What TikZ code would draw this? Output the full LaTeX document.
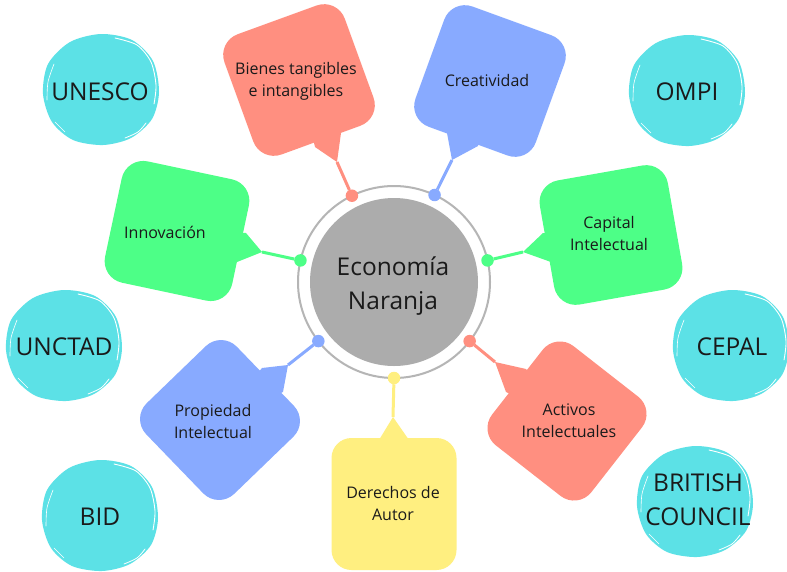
\documentclass[tikz,border=0pt]{standalone}
\usepackage{fontspec}
\setmainfont{Open Sans}
\usetikzlibrary{calc}
\definecolor{csalmon}{HTML}{FF8F80}
\definecolor{cblue}{HTML}{88AAFF}
\definecolor{cgreen}{HTML}{4DFF87}
\definecolor{cyellow}{HTML}{FFEF80}
\definecolor{ccyan}{HTML}{5CE1E6}
\definecolor{ringgrey}{HTML}{B5B5B5}
\definecolor{discgrey}{HTML}{ACACAC}
\definecolor{txt}{HTML}{1A1A1A}
\tikzset{
  blob/.pic={
    \fill[ccyan] plot[smooth cycle] coordinates {(58,2) (51,29) (30,48) (2,55) (-28,50) (-49,32) (-58,4) (-53,-26) (-31,-48) (0,-56) (31,-50) (52,-29)};
    \draw[white, line width=0.9pt, line cap=round] plot[smooth] coordinates {(14,-52) (36,-45) (50,-28) (55,-5) (53,14)};
    \draw[white, line width=0.8pt, line cap=round] plot[smooth] coordinates {(24,48) (37,42) (45,33)};
    \draw[white, line width=0.6pt, line cap=round] plot[smooth] coordinates {(-54,10) (-53,-8) (-47,-26)};
    \draw[white, line width=0.6pt, line cap=round] plot[smooth] coordinates {(-46,32) (-36,42)};
  }
}
\begin{document}
\begin{tikzpicture}[x=1pt,y=-1pt,
  bubble/.style={rounded corners=22pt, inner sep=0pt, outer sep=0pt, minimum width=128pt, minimum height=128pt},
  btext/.style={font=\fontsize{16}{22}\selectfont, text=txt, align=center, inner sep=0pt},
  otext/.style={font=\fontsize{24.5}{34}\selectfont, text=txt, align=center, inner sep=0pt},
  link/.style={line width=3pt},
  knob/.style={circle, inner sep=0pt, outer sep=0pt, minimum size=12.5pt},
]
\useasboundingbox (0,0) rectangle (787,571);
\fill[white] (0,0) rectangle (787,571);

% organisations
\pic at (101,90) {blob};
\pic at (687,91) {blob};
\pic at (64,346) {blob};
\pic at (731,346) {blob};
\pic at (100,516) {blob};
\pic at (695,502) {blob};
\node[otext] (unesco) at (100,92) {UNESCO};
\node[otext] (ompi) at (687,92) {OMPI};
\node[otext] (unctad) at (64,347) {UNCTAD};
\node[otext] (cepal) at (732,347) {CEPAL};
\node[otext] (bid) at (100,517) {BID};
\node[otext] (bc) at (698,500) {BRITISH\\COUNCIL};

% centre
\node[circle, draw=ringgrey, line width=2pt, minimum size=192pt, inner sep=0pt, outer sep=0pt] (ring) at (394,282) {};
\node[circle, fill=discgrey, minimum size=168pt, inner sep=0pt] (core) at (394,282) {};
\node[otext] (coretext) at (393,286) {Economía\\Naranja};

% bubbles
\node[bubble, fill=csalmon, rotate=20] (b1) at (299,80) {};
\node[bubble, fill=cblue, rotate=-20] (b2) at (490,81) {};
\node[bubble, fill=cgreen, rotate=-12, minimum width=130pt, minimum height=124pt] (b3) at (177,231) {};
\node[bubble, fill=cgreen, rotate=10, minimum width=130pt, minimum height=126pt] (b4) at (611,235) {};
\node[bubble, fill=cblue, rotate=44, minimum width=126pt, minimum height=126pt] (b5) at (220,420) {};
\node[bubble, fill=csalmon, rotate=-38, minimum width=126pt, minimum height=126pt] (b6) at (567,421) {};
\node[bubble, fill=cyellow, rounded corners=20pt, minimum width=125pt, minimum height=132pt] (b7) at (394,504) {};

% tails
\coordinate (t1) at (337,162);
\coordinate (t2) at (452,160);
\coordinate (t3) at (262,252);
\coordinate (t4) at (523,252);
\coordinate (t5) at (288,365);
\coordinate (t6) at (495,362);
\coordinate (t7) at (393,417);
\fill[csalmon] (t1) -- (315,147) -- (b1.center) -- (341,133) -- cycle;
\fill[cblue] (t2) -- (447,133) -- (b2.center) -- (478,146) -- cycle;
\fill[cgreen] (t3) -- (246,233) -- (b3.center) -- (237,262) -- cycle;
\fill[cgreen] (t4) -- (543,233) -- (b4.center) -- (551,262) -- cycle;
\fill[cblue] (t5) -- (262,368) -- (b5.center) -- (283,392) -- cycle;
\fill[csalmon] (t6) -- (526,369) -- (b6.center) -- (506,392) -- cycle;
\fill[cyellow] (t7) -- (379,440) -- (b7.center) -- (409,440) -- cycle;

% knobs
\node[knob, fill=csalmon] (d1) at (ring.116) {};
\node[knob, fill=cblue] (d2) at (ring.65) {};
\node[knob, fill=cgreen] (d3) at (ring.167) {};
\node[knob, fill=cgreen] (d4) at (ring.13) {};
\node[knob, fill=cblue] (d5) at (ring.218) {};
\node[knob, fill=csalmon] (d6) at (ring.-38.5) {};
\node[knob, fill=cyellow] (d7) at (ring.-90) {};

% links
\draw[link, csalmon] (t1) -- (d1);
\draw[link, cblue] (t2) -- (d2);
\draw[link, cgreen] (t3) -- (d3);
\draw[link, cgreen] (t4) -- (d4);
\draw[link, cblue] (t5) -- (d5);
\draw[link, csalmon] (t6) -- (d6);
\draw[link, cyellow] (t7) -- (d7);

% labels
\node[btext] (l1) at (296,81) {Bienes tangibles\\e intangibles};
\node[btext] (l2) at (487,80) {Creatividad};
\node[btext] (l3) at (165,232) {Innovación};
\node[btext] (l4) at (609,233) {Capital\\Intelectual};
\node[btext] (l5) at (213,421) {Propiedad\\Intelectual};
\node[btext] (l6) at (569,421) {Activos\\Intelectuales};
\node[btext] (l7) at (393,503) {Derechos de\\Autor};
\end{tikzpicture}
\end{document}
